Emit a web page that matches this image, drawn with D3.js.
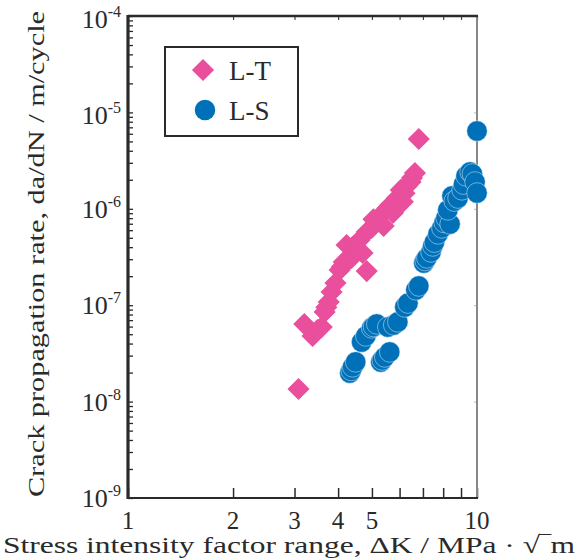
<!DOCTYPE html>
<html>
<head>
<meta charset="utf-8">
<script src="https://cdn.jsdelivr.net/npm/d3@7"></script>
<style>
  html, body { margin: 0; padding: 0; background: #fff; }
  svg { display: block; }
  svg text { font-family: "Liberation Serif", serif; }
</style>
</head>
<body>
<div id="chart"></div>
<script>
// ---- data ----
const seriesNames = ["L-T", "L-S"];
const ltK = [3.08, 3.20, 3.38, 3.49, 3.59, 3.66, 3.70, 3.76, 3.83, 3.93, 4.04, 4.10, 4.15, 4.23, 4.37, 4.40, 4.49, 4.61, 4.70, 4.83, 4.83, 4.99, 5.05, 5.13, 5.30, 5.40, 5.55, 5.65, 5.74, 5.89, 6.05, 6.13, 6.20, 6.29, 6.45, 6.51, 6.64, 6.81];
const ltRate = [1.35e-8, 6.38e-8, 4.79e-8, 5.53e-8, 5.94e-8, 8.5e-8, 9.5e-8, 1.08e-7, 1.37e-7, 1.70e-7, 2.32e-7, 2.5e-7, 2.81e-7, 4.21e-7, 3.09e-7, 4.0e-7, 3.74e-7, 4.75e-7, 3.48e-7, 2.26e-7, 5.74e-7, 6.32e-7, 7.8e-7, 7.30e-7, 8.63e-7, 6.63e-7, 1.02e-6, 1.1e-6, 9.04e-7, 1.29e-6, 1.57e-6, 1.18e-6, 1.45e-6, 1.72e-6, 1.9e-6, 2.09e-6, 2.35e-6, 5.30e-6];
const lsK = [4.32, 4.36, 4.40, 4.49, 4.67, 4.80, 4.99, 5.05, 5.16, 5.30, 5.35, 5.44, 5.62, 5.55, 5.77, 5.93, 6.21, 6.34, 6.68, 6.81, 7.04, 7.10, 7.18, 7.38, 7.47, 7.55, 7.73, 7.93, 8.05, 8.15, 8.37, 8.25, 8.48, 8.60, 8.82, 9.06, 9.15, 9.30, 9.55, 9.70, 9.87, 10.0, 10.0];
const lsRate = [1.98e-8, 2.1e-8, 2.29e-8, 2.58e-8, 4.15e-8, 4.79e-8, 5.80e-8, 6.0e-8, 6.38e-8, 2.58e-8, 2.7e-8, 2.90e-8, 3.27e-8, 5.94e-8, 6.23e-8, 6.70e-8, 9.57e-8, 1.05e-7, 1.44e-7, 1.58e-7, 2.74e-7, 2.9e-7, 3.09e-7, 3.56e-7, 4.11e-7, 4.5e-7, 5.48e-7, 6.32e-7, 7.2e-7, 8.03e-7, 6.95e-7, 9.72e-7, 1.36e-6, 1.2e-6, 1.29e-6, 1.57e-6, 1.8e-6, 2.19e-6, 2.41e-6, 2.3e-6, 1.90e-6, 1.46e-6, 6.41e-6];
const xTickValues = [1, 2, 3, 4, 5, 6, 7, 8, 9, 10];
const xTickLabels = [1, 2, 3, 4, 5, 10];
const yExponents = [-4, -5, -6, -7, -8, -9];
const xTitle = "Stress intensity factor range, \u0394K / MPa \u00b7 \u221a\u203em";
const yTitle = "Crack propagation rate, da/dN / m/cycle";

// ---- layout ----
const W = 580, H = 560;
const L = 128, R = 477, T = 16, B = 498;
const pink = "#e94f9c", blue = "#0071b9";
const ink = "#2a2a2a";

const svg = d3.select("#chart").append("svg").attr("width", W).attr("height", H);

const x = d3.scaleLog().domain([1, 10]).range([L, R]);
const y = d3.scaleLog().domain([1e-9, 1e-4]).range([B, T]);

// minor/major ticks on left axis
const yTickVals = [];
for (let e = -9; e < -4; e++) for (let m = 1; m <= 9; m++) yTickVals.push(m * Math.pow(10, e));
yTickVals.push(1e-4);

const gl = svg.append("g").attr("transform", `translate(${L},0)`)
  .call(d3.axisLeft(y).tickValues(yTickVals).tickSize(-5).tickFormat(""));
gl.select(".domain").remove();
gl.selectAll(".tick line").attr("stroke", ink).attr("stroke-width", 1.3);

// right axis faint ticks
const gr = svg.append("g").attr("transform", `translate(${R},0)`)
  .call(d3.axisRight(y).tickValues(yExponents.map(e => Math.pow(10, e))).tickSize(-3).tickFormat(""));
gr.select(".domain").remove();
gr.selectAll(".tick line").attr("stroke", "#bbb").attr("stroke-width", 1);

// bottom ticks
const gb = svg.append("g").attr("transform", `translate(0,${B})`)
  .call(d3.axisBottom(x).tickValues(xTickValues).tickSize(-10).tickFormat(""));
gb.select(".domain").remove();
gb.selectAll(".tick line").attr("stroke", ink).attr("stroke-width", 1.5);

// top ticks
const gt = svg.append("g").attr("transform", `translate(0,${T})`)
  .call(d3.axisTop(x).tickValues(xTickValues).tickSize(-4).tickFormat(""));
gt.select(".domain").remove();
gt.selectAll(".tick line").attr("stroke", "#444").attr("stroke-width", 1.2);

// frame
svg.append("line").attr("x1", R).attr("x2", R).attr("y1", T).attr("y2", B)
  .attr("stroke", "#888").attr("stroke-width", 2);
svg.append("line").attr("x1", L).attr("x2", R + 1).attr("y1", T).attr("y2", T)
  .attr("stroke", ink).attr("stroke-width", 2.5);
svg.append("line").attr("x1", L).attr("x2", R + 1).attr("y1", B).attr("y2", B)
  .attr("stroke", ink).attr("stroke-width", 2);
svg.append("line").attr("x1", L).attr("x2", L).attr("y1", T - 1).attr("y2", B + 1)
  .attr("stroke", ink).attr("stroke-width", 3.2);

// x tick labels
svg.append("g").selectAll("text").data(xTickLabels).join("text")
  .attr("x", d => x(d)).attr("y", B + 31)
  .attr("text-anchor", "middle").attr("font-size", 25).attr("fill", ink)
  .text(d => d);

// y tick labels with superscripts
const yl = svg.append("g").selectAll("text").data(yExponents).join("text")
  .attr("x", 121).attr("y", d => y(Math.pow(10, d)) + 9 + (d >= -5 ? 3 : 0))
  .attr("text-anchor", "end").attr("font-size", 26).attr("fill", ink);
yl.append("tspan").text("10");
yl.append("tspan").attr("dy", -11).attr("font-size", 16).text(d => "-" + Math.abs(d));

// axis titles
svg.append("text").attr("x", 289).attr("y", 553)
  .attr("text-anchor", "middle").attr("font-size", 24).attr("fill", ink)
  .attr("textLength", 572).attr("lengthAdjust", "spacingAndGlyphs")
  .text(xTitle);
svg.append("text").attr("transform", `translate(44,254) rotate(-90)`)
  .attr("text-anchor", "middle").attr("font-size", 23).attr("fill", ink)
  .attr("textLength", 486).attr("lengthAdjust", "spacingAndGlyphs")
  .text(yTitle);

// data marks
const ltData = ltK.map((k, i) => ({ k, r: ltRate[i] }));
const lsData = lsK.map((k, i) => ({ k, r: lsRate[i] }));
const diamond = d3.symbol(d3.symbolSquare, 245);
const circle = d3.symbol(d3.symbolCircle, 330);

svg.append("g").selectAll("path").data(ltData).join("path")
  .attr("d", diamond)
  .attr("transform", d => `translate(${x(d.k)},${y(d.r)}) rotate(45)`)
  .attr("fill", pink);

svg.append("g").selectAll("path").data(lsData).join("path")
  .attr("d", circle)
  .attr("transform", d => `translate(${x(d.k)},${y(d.r)})`)
  .attr("fill", blue).attr("stroke", "#dfeaf4").attr("stroke-width", 0.5);

// legend
const lg = svg.append("g");
lg.append("rect").attr("x", 165).attr("y", 47).attr("width", 133).attr("height", 89)
  .attr("fill", "#fff").attr("stroke", ink).attr("stroke-width", 2);
lg.append("path").attr("d", diamond).attr("transform", "translate(203,70) rotate(45)").attr("fill", pink);
lg.append("path").attr("d", circle).attr("transform", "translate(205,110)").attr("fill", blue);
lg.append("text").attr("x", 229).attr("y", 80).attr("font-size", 27).attr("fill", ink).text(seriesNames[0]);
lg.append("text").attr("x", 229).attr("y", 120).attr("font-size", 27).attr("fill", ink).text(seriesNames[1]);
</script>
</body>
</html>
